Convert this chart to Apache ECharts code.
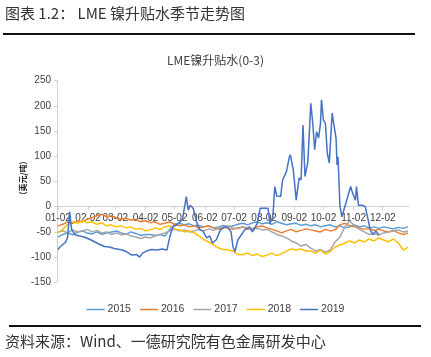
<!DOCTYPE html>
<html><head><meta charset="utf-8">
<script src="https://cdn.jsdelivr.net/npm/echarts@6/dist/echarts.min.js"></script>
<style>html,body{margin:0;padding:0;background:#fff}#c{width:431px;height:357px}</style>
</head><body><div id="c"></div>
<script>
// ---- data (day of year, Jan 1 = 0) ----
const monthTicks = [1, 32, 60, 91, 121, 152, 182, 213, 244, 274, 305, 335];
const monthLabels = ['01-02','02-02','03-02','04-02','05-02','06-02','07-02','08-02','09-02','10-02','11-02','12-02'];
const yTicks = [-150, -100, -50, 0, 50, 100, 150, 200, 250];
const seriesNames = ['2015','2016','2017','2018','2019'];

const days = [1,6,11,16,21,26,31,36,41,46,51,56,61,66,71,76,81,86,91,96,101,106,111,116,121,126,131,136,141,146,151,156,161,166,171,176,181,186,191,196,201,206,211,216,221,226,231,236,241,246,251,256,261,266,271,276,281,286,291,296,301,306,311,316,321,326,331,336,341,346,351,356,361];

const v2015 = [-60,-55,-52,-56,-50,-48,-52,-54,-50,-55,-52,-50,-48,-52,-55,-50,-53,-57,-55,-55,-57,-55,-58,-45,-35,-33,-36,-34,-38,-37,-40,-38,-42,-40,-37,-40,-38,-35,-33,-36,-32,-30,-34,-32,-35,-30,-33,-36,-34,-33,-37,-35,-38,-36,-40,-38,-36,-40,-38,-42,-40,-36,-40,-38,-42,-40,-43,-40,-42,-44,-41,-43,-40];

const v2016 = [-38,-35,-30,-33,-28,-30,-25,-22,-18,-15,-20,-18,-22,-25,-23,-27,-25,-30,-28,-32,-30,-35,-33,-30,-35,-38,-36,-40,-38,-42,-40,-38,-42,-45,-40,-43,-45,-42,-40,-45,-43,-40,-38,-42,-45,-48,-52,-48,-45,-50,-47,-44,-46,-48,-50,-45,-48,-46,-36,-33,-38,-40,-42,-45,-43,-47,-45,-48,-50,-47,-52,-55,-52];

const v2017 = [-50,-48,-52,-46,-50,-48,-45,-50,-47,-52,-50,-55,-52,-56,-54,-58,-60,-63,-60,-62,-58,-55,-52,-48,-45,-48,-46,-50,-48,-45,-48,-44,-47,-42,-40,-38,-42,-44,-40,-42,-45,-43,-46,-45,-50,-55,-58,-62,-68,-72,-78,-75,-82,-88,-85,-90,-86,-70,-60,-40,-28,-38,-45,-50,-55,-53,-56,-52,-50,-48,-46,-50,-48];

const v2018 = [-52,-45,-35,-30,-33,-28,-32,-30,-35,-32,-38,-36,-40,-38,-42,-40,-45,-43,-48,-46,-42,-45,-40,-38,-44,-46,-50,-48,-52,-58,-65,-70,-75,-82,-85,-86,-88,-95,-95,-92,-97,-94,-99,-96,-92,-97,-93,-88,-84,-86,-84,-88,-88,-92,-86,-94,-89,-80,-76,-72,-68,-72,-66,-70,-64,-68,-62,-66,-70,-64,-72,-86,-80];

const days2019 = [1,3,6,9,11,13,15,18,23,28,34,39,44,49,54,59,67,72,77,82,85,88,92,97,103,108,113,116,119,124,129,133,135,137,140,142,144,147,150,154,157,160,164,168,173,176,179,181,183,186,193,198,201,206,209,212,217,219,222,224,226,230,232,236,239,240,243,246,249,251,253,255,258,261,263,265,267,269,271,272,274,276,278,280,283,284,287,288,289,291,293,296,302,304,307,308,310,314,315,317,320,322,325,328,331];
const v2019 = [-85,-80,-75,-70,-60,-10,-45,-55,-58,-60,-65,-70,-75,-79,-80,-83,-86,-90,-96,-95,-100,-92,-88,-85,-86,-84,-86,-60,-40,-35,-25,20,-7,3,-3,-5,-33,-46,-48,-62,-58,-72,-65,-46,-40,-42,-50,-80,-89,-66,-46,-40,-50,-33,-3,-3,-3,-33,-20,40,21,20,53,70,99,103,73,13,57,53,162,60,89,205,166,113,149,136,166,212,172,166,106,87,186,172,136,83,99,0,-20,0,40,27,13,40,3,3,5,0,-26,-46,-55,-48,-56];

const colors = ['#5B9BD5','#ED7D31','#A5A5A5','#FFC000','#4472C4'];

function pairs(xs, ys){ return xs.map((x,i)=>[x, ys[i]]); }
const seriesData = [pairs(days,v2015), pairs(days,v2016), pairs(days,v2017), pairs(days,v2018), pairs(days2019,v2019)];

const chart = echarts.init(document.getElementById('c'), null, {renderer:'canvas'});
const cjk = '"Noto Sans CJK SC", sans-serif';
const lat = '"Liberation Sans", Arial, sans-serif';
const X_MIN = 0, X_MAX = 362;
const gridTop = 80.7, gridBottom = 74.7;
// zero line position in pixels (grid height 201.6 for 400 units)
const plotH = 357 - gridTop - gridBottom;
const zeroBottom = gridBottom + plotH * (0 - yTicks[0]) / (yTicks[yTicks.length-1] - yTicks[0]);

chart.setOption({
  backgroundColor: '#fff',
  animation: false,
  color: colors,
  title: {
    text: 'LME镍升贴水(0-3)',
    left: 'center', top: 49,
    textStyle: {fontSize: 12, fontWeight: 'normal', color: '#404040', fontFamily: cjk}
  },
  grid: [
    {left: 57, right: 22, top: gridTop, bottom: gridBottom, containLabel: false},
    {left: 57, right: 22, top: gridTop, bottom: zeroBottom, containLabel: false}
  ],
  legend: {
    data: seriesNames,
    left: 'center', top: 299,
    icon: 'rect', itemWidth: 18, itemHeight: 1.5, itemGap: 9,
    textStyle: {fontSize: 10.5, color: '#404040', fontFamily: lat, padding: [0,0,0,-2]}
  },
  xAxis: [{
    type: 'value', min: X_MIN, max: X_MAX, gridIndex: 0,
    axisLine: {show: false}, axisTick: {show: false}, axisLabel: {show: false}, splitLine: {show: false}
  }, {
    type: 'value', min: X_MIN, max: X_MAX, gridIndex: 1, position: 'bottom',
    axisLine: {show: true, onZero: false, lineStyle: {color: '#d0d0d0', width: 1}},
    axisTick: {show: true, length: 3, customValues: monthTicks, lineStyle: {color: '#d0d0d0'}},
    axisLabel: {
      customValues: monthTicks, margin: 7, fontSize: 10, color: '#404040', fontFamily: lat,
      formatter: v => { const i = monthTicks.indexOf(v); return i >= 0 ? monthLabels[i] : ''; }
    },
    splitLine: {show: false}
  }],
  yAxis: [{
    type: 'value', min: yTicks[0], max: yTicks[yTicks.length-1], interval: 50, gridIndex: 0,
    axisLine: {show: true, onZero: false, lineStyle: {color: '#d0d0d0'}},
    axisTick: {show: true, length: 3, lineStyle: {color: '#d0d0d0'}},
    axisLabel: {fontSize: 10, color: '#404040', margin: 6, fontFamily: lat},
    splitLine: {show: false}
  }, {
    type: 'value', min: 0, max: 1, gridIndex: 1, show: false
  }],
  series: seriesNames.map((n, i) => ({
    name: n, type: 'line', data: seriesData[i], symbol: 'none',
    xAxisIndex: 0, yAxisIndex: 0,
    lineStyle: {width: 1.5, color: colors[i]}, itemStyle: {color: colors[i]},
    z: 3 + i
  })),
  graphic: [
    {type: 'text', left: 5, top: 6, style: {text: '图表 1.2： LME 镍升贴水季节走势图', font: '15px ' + cjk, fill: '#333'}},
    {type: 'line', shape: {x1: 3, y1: 34, x2: 415, y2: 34}, style: {stroke: '#111', lineWidth: 2}},
    {type: 'text', x: 23, y: 178, rotation: Math.PI/2,
      style: {text: '(美元/吨)', font: 'bold 8px ' + cjk, fill: '#222', align: 'center', verticalAlign: 'middle'}},
    {type: 'line', shape: {x1: 9, y1: 326, x2: 421, y2: 326}, style: {stroke: '#111', lineWidth: 2}},
    {type: 'text', left: 5, top: 334, style: {text: '资料来源：Wind、一德研究院有色金属研发中心', font: '15px ' + cjk, fill: '#333'}}
  ]
});
</script></body></html>
